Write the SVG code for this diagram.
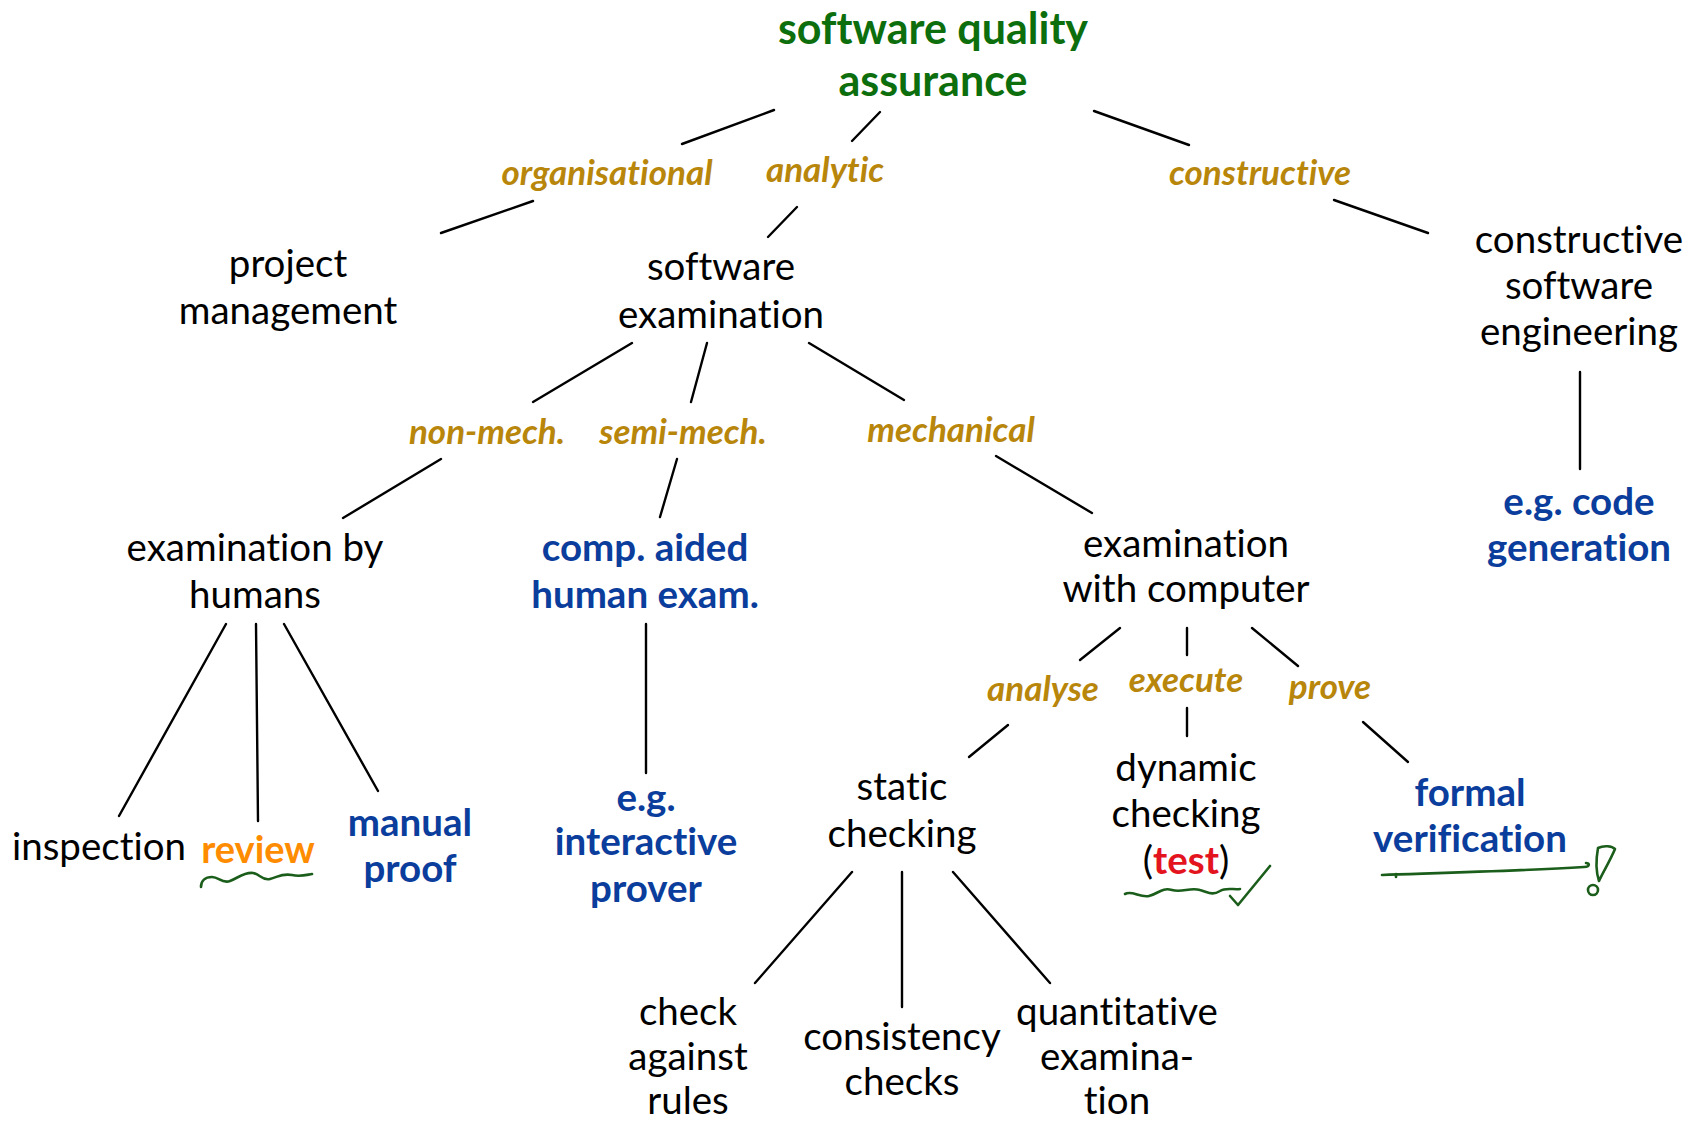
<svg xmlns="http://www.w3.org/2000/svg" width="1692" height="1123" viewBox="0 0 1692 1123">
<style>
text{font-family:Lato,"Open Sans","DejaVu Sans",sans-serif;text-anchor:middle;font-variant-ligatures:none;font-feature-settings:"liga" 0}
.n{font-size:38.5px;fill:#000}
.t{font-size:43px;font-weight:bold;fill:#0d6e0d}
.l{font-size:35px;font-weight:bold;font-style:italic;fill:#b8860b}
.b{font-size:38.5px;font-weight:bold;fill:#0a3d9c}
.o{font-size:38px;font-weight:bold;fill:#ff8c00}
.r{font-weight:bold;fill:#e3141e}
#connectors line{stroke:#000;stroke-width:2.4;stroke-linecap:round}
.hand{fill:none;stroke:#1b5e1b;stroke-width:2.6;stroke-linecap:round;stroke-linejoin:round}
</style>
<rect width="1692" height="1123" fill="#fff"/>
<g id="connectors">
<line x1="774" y1="110" x2="682" y2="144"/>
<line x1="880" y1="112" x2="852" y2="141"/>
<line x1="1094" y1="111" x2="1189" y2="145"/>
<line x1="533" y1="201" x2="441" y2="233"/>
<line x1="797" y1="207" x2="768" y2="237"/>
<line x1="1334" y1="200" x2="1428" y2="233"/>
<line x1="1580" y1="372" x2="1580" y2="469"/>
<line x1="632" y1="343" x2="533" y2="402"/>
<line x1="707" y1="343" x2="691" y2="402"/>
<line x1="809" y1="343" x2="904" y2="400"/>
<line x1="441" y1="459" x2="343" y2="518"/>
<line x1="677" y1="459" x2="660" y2="517"/>
<line x1="996" y1="456" x2="1092" y2="513"/>
<line x1="226" y1="624" x2="119" y2="816"/>
<line x1="256" y1="624" x2="258" y2="821"/>
<line x1="284" y1="624" x2="378" y2="791"/>
<line x1="646" y1="624" x2="646" y2="773"/>
<line x1="1120" y1="628" x2="1080" y2="660"/>
<line x1="1187" y1="628" x2="1187" y2="655"/>
<line x1="1252" y1="628" x2="1298" y2="666"/>
<line x1="1008" y1="725" x2="969" y2="757"/>
<line x1="1187" y1="708" x2="1187" y2="736"/>
<line x1="1363" y1="722" x2="1408" y2="762"/>
<line x1="852" y1="872" x2="755" y2="983"/>
<line x1="902" y1="872" x2="902" y2="1007"/>
<line x1="953" y1="872" x2="1050" y2="983"/>
</g>
<g id="labels">
<text class="l" x="607" y="185">organisational</text>
<text class="l" x="825" y="182">analytic</text>
<text class="l" x="1260" y="185">constructive</text>
<text class="l" x="487" y="444">non-mech.</text>
<text class="l" x="683" y="444">semi-mech.</text>
<text class="l" x="951" y="442">mechanical</text>
<text class="l" x="1043" y="701">analyse</text>
<text class="l" x="1186" y="692">execute</text>
<text class="l" x="1330" y="699">prove</text>
</g>
<g id="sqa"><text class="t" x="933" y="44">software quality</text><text class="t" x="933" y="96">assurance</text></g>
<g id="pm"><text class="n" x="288" y="277">project</text><text class="n" x="288" y="324">management</text></g>
<g id="se"><text class="n" x="721" y="280">software</text><text class="n" x="721" y="328">examination</text></g>
<g id="cse"><text class="n" x="1579" y="253">constructive</text><text class="n" x="1579" y="299">software</text><text class="n" x="1579" y="345">engineering</text></g>
<g id="cg"><text class="b" x="1579" y="515">e.g. code</text><text class="b" x="1579" y="561">generation</text></g>
<g id="ebh"><text class="n" x="255" y="561">examination by</text><text class="n" x="255" y="608">humans</text></g>
<g id="cahe"><text class="b" x="645" y="561">comp. aided</text><text class="b" x="645" y="608">human exam.</text></g>
<g id="ewc"><text class="n" x="1186" y="557">examination</text><text class="n" x="1186" y="602">with computer</text></g>
<g id="insp"><text class="n" x="99" y="860">inspection</text></g>
<g id="rev"><text class="o" x="258" y="863">review</text></g>
<g id="mp"><text class="b" x="410" y="836">manual</text><text class="b" x="410" y="882">proof</text></g>
<g id="eip"><text class="b" x="646" y="811">e.g.</text><text class="b" x="646" y="855">interactive</text><text class="b" x="646" y="902">prover</text></g>
<g id="sc"><text class="n" x="902" y="800">static</text><text class="n" x="902" y="847">checking</text></g>
<g id="dc"><text class="n" x="1186" y="781">dynamic</text><text class="n" x="1186" y="827">checking</text><text class="n" x="1186" y="874">(<tspan class="r">test</tspan>)</text></g>
<g id="fv"><text class="b" x="1470" y="806">formal</text><text class="b" x="1470" y="852">verification</text></g>
<g id="car"><text class="n" x="688" y="1025">check</text><text class="n" x="688" y="1070">against</text><text class="n" x="688" y="1114">rules</text></g>
<g id="cc"><text class="n" x="902" y="1050">consistency</text><text class="n" x="902" y="1095">checks</text></g>
<g id="qe"><text class="n" x="1117" y="1025">quantitative</text><text class="n" x="1117" y="1070">examina-</text><text class="n" x="1117" y="1114">tion</text></g>
<g id="annotations">
<path class="hand" d="M201,887 C201,881 205,877 212,877 C219,877 222,884 230,881 C238,878 244,872 253,873 C260,874 262,881 270,879 C278,877 282,873 292,875 C300,877 306,875 312,874"/>
<path class="hand" d="M1125,894 C1132,890 1140,898 1149,896 C1158,894 1162,887 1172,890 C1182,893 1190,887 1200,890 C1208,892 1212,896 1220,891 C1226,887 1234,890 1240,889"/>
<path class="hand" d="M1230,896 L1238,905 L1270,866"/>
<path class="hand" d="M1382,875 C1440,873 1520,871 1584,867 C1590,867 1590,863 1586,863"/>
<path class="hand" d="M1396,874 L1396,877"/>
<path class="hand" d="M1598,848 C1604,845 1612,846 1615,849 C1610,861 1603,872 1599,881 C1596,872 1596,859 1598,848 Z"/>
<circle class="hand" cx="1593" cy="890" r="5"/>
</g>
</svg>
